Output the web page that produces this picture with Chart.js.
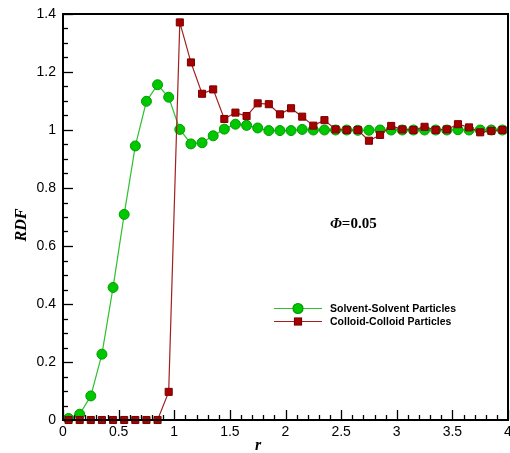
<!DOCTYPE html>
<html>
<head>
<meta charset="utf-8">
<script src="https://cdn.jsdelivr.net/npm/chart.js@4/dist/chart.umd.min.js"></script>
<style>
  html, body { margin: 0; padding: 0; background: #fff; }
  #wrap { width: 510px; height: 453px; }
</style>
</head>
<body>
<div id="wrap"><canvas id="rdfChart" width="510" height="453"></canvas></div>
<script>
// r positions of the bins
const rValues = [0.05, 0.15, 0.25, 0.35, 0.45, 0.55, 0.65, 0.75, 0.85, 0.95,
  1.05, 1.15, 1.25, 1.35, 1.45, 1.55, 1.65, 1.75, 1.85, 1.95,
  2.05, 2.15, 2.25, 2.35, 2.45, 2.55, 2.65, 2.75, 2.85, 2.95,
  3.05, 3.15, 3.25, 3.35, 3.45, 3.55, 3.65, 3.75, 3.85, 3.95]

const solventRdf = [0.005, 0.02, 0.083, 0.227, 0.457, 0.709, 0.945, 1.099, 1.156, 1.113,
  1.002, 0.952, 0.956, 0.98, 1.003, 1.02, 1.016, 1.007, 0.998, 0.998,
  0.998, 1.002, 1.0, 1.0, 1.0, 1.0, 0.999, 0.999, 1.0, 1.0,
  1.0, 1.0, 1.0, 1.0, 1.0, 1.001, 1.0, 1.0, 1.0, 1.0]

const colloidRdf = [0, 0, 0, 0, 0, 0, 0, 0, 0, 0.097,
  1.371, 1.233, 1.125, 1.14, 1.038, 1.06, 1.048, 1.092, 1.089, 1.054,
  1.075, 1.046, 1.015, 1.034, 1.002, 1.0, 1.0, 0.963, 0.983, 1.014,
  1.002, 1.0, 1.011, 1.0, 1.002, 1.02, 1.009, 0.992, 0.997, 1.0]

const xTickLabels = ['0', '0.5', '1', '1.5', '2', '2.5', '3', '3.5', '4']
const yTickLabels = ['0', '0.2', '0.4', '0.6', '0.8', '1', '1.2', '1.4']
const seriesNames = ['Solvent-Solvent Particles', 'Colloid-Colloid Particles']

const toPoints = (ys) => ys.map((y, i) => ({ x: rValues[i], y: y }))

const GREEN_LINE = '#2fc02f'
const RED_LINE = '#a02020'

// frame, inward ticks, labels, titles, legend and the phi note
const framePlugin = {
  id: 'framePlugin',
  afterDraw(chart) {
    const ctx = chart.ctx
    const a = chart.chartArea
    const xs = chart.scales.x
    const ys = chart.scales.y
    ctx.save()
    ctx.strokeStyle = '#000'

    // minor + major ticks on bottom axis
    ctx.lineWidth = 1.3
    for (let i = 0; i <= 40; i++) {
      const px = Math.round(xs.getPixelForValue(i / 10)) + 0.5
      const len = i % 5 === 0 ? 10 : 5
      ctx.beginPath()
      ctx.moveTo(px, a.bottom)
      ctx.lineTo(px, a.bottom - len)
      ctx.stroke()
    }
    // minor + major ticks on left axis
    for (let i = 0; i <= 28; i++) {
      const py = Math.round(ys.getPixelForValue(i * 0.05)) + 0.5
      const len = i % 4 === 0 ? 10 : 5
      ctx.beginPath()
      ctx.moveTo(a.left, py)
      ctx.lineTo(a.left + len, py)
      ctx.stroke()
    }

    // frame
    ctx.lineWidth = 2
    ctx.strokeRect(a.left, a.top, a.right - a.left, a.bottom - a.top)

    // tick labels
    ctx.fillStyle = '#000'
    ctx.font = '14px "Liberation Sans", Arial, sans-serif'
    ctx.textAlign = 'center'
    ctx.textBaseline = 'middle'
    xTickLabels.forEach((t, i) => {
      ctx.fillText(t, xs.getPixelForValue(i * 0.5), a.bottom + 12)
    })
    ctx.textAlign = 'right'
    yTickLabels.forEach((t, i) => {
      ctx.fillText(t, a.left - 7, ys.getPixelForValue(i * 0.2))
    })

    // axis titles
    ctx.font = 'italic bold 16px "Liberation Serif", "Times New Roman", serif'
    ctx.textAlign = 'center'
    ctx.fillText('r', 258, a.bottom + 26)
    ctx.save()
    ctx.translate(22, (a.top + a.bottom) / 2 + 8)
    ctx.rotate(-Math.PI / 2)
    ctx.fillText('RDF', 0, 0)
    ctx.restore()

    // phi annotation
    ctx.textAlign = 'left'
    ctx.font = 'italic bold 15px "Liberation Serif", "Times New Roman", serif'
    ctx.fillText('\u03A6', 330, 224)
    const phiW = ctx.measureText('\u03A6').width
    ctx.font = 'bold 15px "Liberation Serif", "Times New Roman", serif'
    ctx.fillText('=0.05', 330 + phiW, 224)

    // legend
    const legendY = [308, 321]
    const colors = [GREEN_LINE, RED_LINE]
    ctx.lineWidth = 1.2
    legendY.forEach((ly, i) => {
      ctx.strokeStyle = colors[i]
      ctx.beginPath()
      ctx.moveTo(274, ly + 0.5)
      ctx.lineTo(322, ly + 0.5)
      ctx.stroke()
    })
    ctx.fillStyle = '#00c800'
    ctx.strokeStyle = '#009a00'
    ctx.beginPath()
    ctx.arc(298, legendY[0] + 0.5, 5, 0, Math.PI * 2)
    ctx.fill()
    ctx.stroke()
    ctx.fillStyle = '#a80000'
    ctx.strokeStyle = '#7a0000'
    ctx.fillRect(294.5, legendY[1] - 3, 7, 7)
    ctx.strokeRect(294.5, legendY[1] - 3, 7, 7)

    ctx.fillStyle = '#000'
    ctx.font = 'bold 10.5px "Liberation Sans", Arial, sans-serif'
    ctx.textBaseline = 'middle'
    ctx.fillText(seriesNames[0], 330, legendY[0] + 1)
    ctx.fillText(seriesNames[1], 330, legendY[1] + 1)
    ctx.restore()
  }
}

const canvas = document.getElementById('rdfChart')
const ctx = canvas.getContext('2d')

const rdfChart = new Chart(ctx, {
  type: 'line',
  data: {
    datasets: [
      {
        label: seriesNames[1],
        data: toPoints(colloidRdf),
        borderColor: RED_LINE,
        borderWidth: 1.2,
        pointStyle: 'rect',
        pointRadius: 5,
        pointBackgroundColor: '#a80000',
        pointBorderColor: '#7a0000',
        pointBorderWidth: 1,
        tension: 0,
        clip: false
      },
      {
        label: seriesNames[0],
        data: toPoints(solventRdf),
        borderColor: GREEN_LINE,
        borderWidth: 1.2,
        pointStyle: 'circle',
        pointRadius: 5,
        pointBackgroundColor: '#00c800',
        pointBorderColor: '#009a00',
        pointBorderWidth: 1,
        tension: 0,
        clip: false
      }
    ]
  },
  options: {
    responsive: false,
    animation: false,
    devicePixelRatio: 1,
    layout: { autoPadding: false, padding: { top: 14, right: 2, left: 0, bottom: 0 } },
    scales: {
      x: {
        type: 'linear',
        min: 0,
        max: 4,
        grid: { display: false },
        border: { display: false },
        ticks: { display: false },
        afterFit: (scale) => { scale.height = 33 }
      },
      y: {
        min: 0,
        max: 1.4,
        grid: { display: false },
        border: { display: false },
        ticks: { display: false },
        afterFit: (scale) => { scale.width = 63 }
      }
    },
    plugins: {
      legend: { display: false },
      tooltip: { enabled: false }
    }
  },
  plugins: [framePlugin]
})
</script>
</body>
</html>
